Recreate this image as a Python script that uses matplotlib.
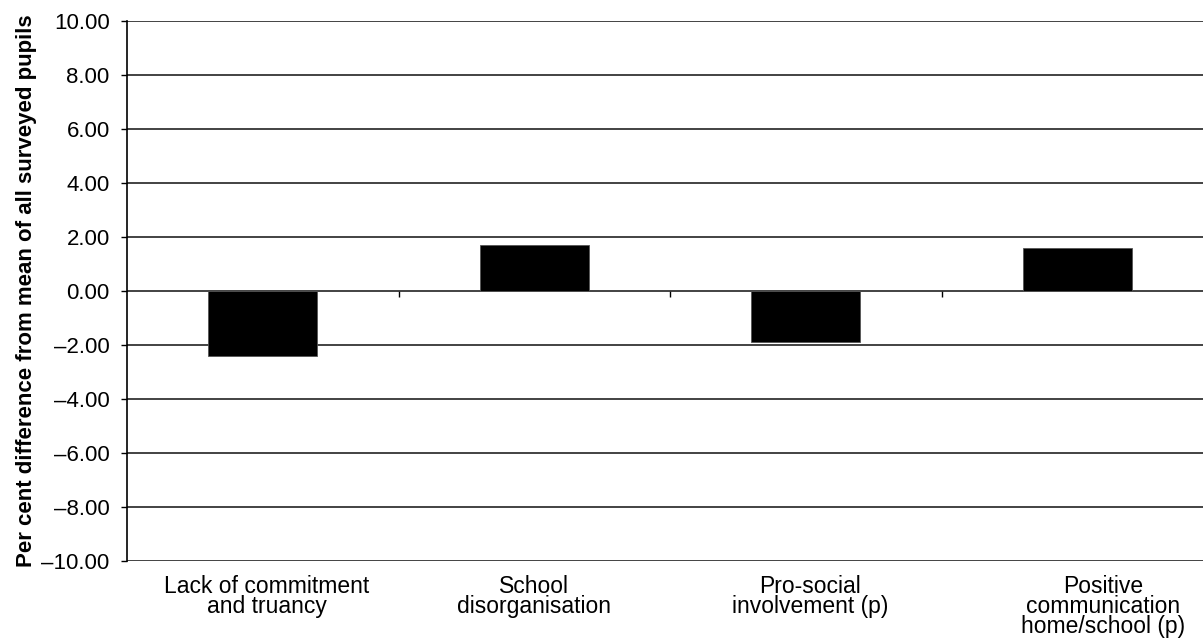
import matplotlib
matplotlib.use("Agg")
import matplotlib.pyplot as plt
import matplotlib.transforms as mtransforms
from matplotlib.ticker import FuncFormatter

categories = ["Lack of commitment\nand truancy", "School\ndisorganisation",
              "Pro-social\ninvolvement (p)", "Positive\ncommunication\nhome/school (p)"]
values = [-2.40, 1.70, -1.90, 1.60]
yticks = [-10, -8, -6, -4, -2, 0, 2, 4, 6, 8, 10]
label_shift_px = [4, 0, 4, 26]

plt.rcParams['font.family'] = ['Liberation Sans', 'DejaVu Sans']

W, H = 1203, 641
fig = plt.figure(figsize=(W / 100, H / 100), dpi=100)
ax = fig.add_axes([127 / W, 1 - 561 / H, 1 - 127 / W + 10 / W, (561 - 21) / H])

x = list(range(len(categories)))
ax.bar(x, values, width=0.4, color="black", edgecolor="#555555", linewidth=0.6, zorder=3)

ax.set_ylim(-10, 10)
ax.set_xlim(-0.5, 3.5)
ax.set_yticks(yticks)
ax.yaxis.set_major_formatter(FuncFormatter(lambda v, p: f"{v:.2f}".replace("-", "\u2013")))
ax.tick_params(axis="y", direction="out", length=4.5, width=1, labelsize=16, pad=8)
for yv in yticks:
    ax.axhline(yv, color="#222222", linewidth=1.2, zorder=1)

ax.set_xticks(x)
ax.set_xticklabels(categories, fontsize=16.5, linespacing=0.85, va="top")
ax.tick_params(axis="x", length=0, pad=10)
for lbl, dx in zip(ax.get_xticklabels(), label_shift_px):
    lbl.set_transform(lbl.get_transform() + mtransforms.ScaledTranslation(dx / 100, 0, fig.dpi_scale_trans))

sec = ax.secondary_xaxis(0.5)
sec.set_xticks([0.5, 1.5, 2.5])
sec.set_xticklabels([])
sec.tick_params(axis="x", direction="in", length=4, width=1, color="black")
sec.spines["bottom"].set_visible(False)
sec.spines["top"].set_visible(False)

for s in ["top", "right", "bottom"]:
    ax.spines[s].set_visible(False)
ax.spines["left"].set_linewidth(1.2)

ax.set_ylabel("Per cent difference from mean of all surveyed pupils", fontsize=16, fontweight="bold", labelpad=3)

fig.savefig("out.png", dpi=100)
